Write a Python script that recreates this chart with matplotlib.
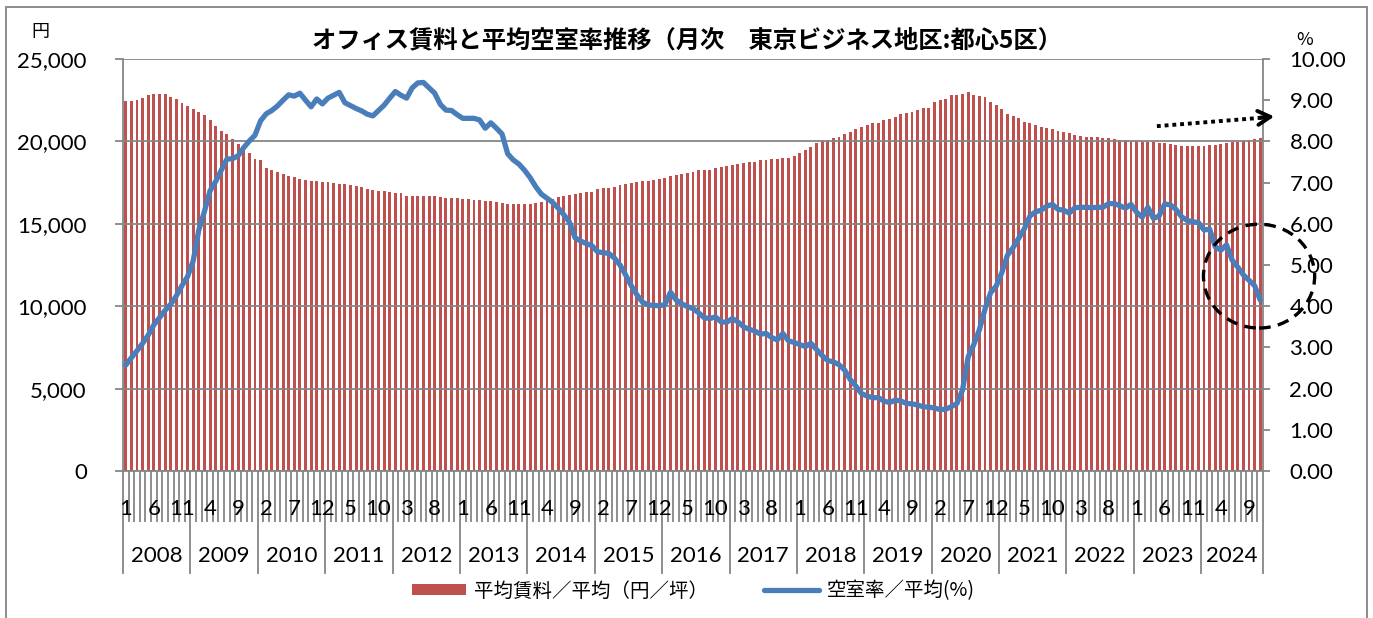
import numpy as np
import matplotlib
matplotlib.use("Agg")
import matplotlib.pyplot as plt
import matplotlib.transforms as mtransforms
from matplotlib.patches import Ellipse, Rectangle
from matplotlib.ticker import FuncFormatter

plt.rcParams['font.family'] = ['Lato', 'Noto Sans CJK JP', 'DejaVu Sans']

start_year = 2008
years = list(range(2008, 2025))

# 平均賃料（円/坪）  2008年1月〜2024年11月
rent = [
    22460, 22480, 22540, 22660, 22790, 22850, 22850, 22870, 22720, 22560, 22320, 22160,  # 2008
    21950, 21790, 21610, 21280, 20960, 20650, 20430, 20140, 19840, 19570, 19310, 18960,  # 2009
    18900, 18390, 18250, 18130, 18030, 17930, 17830, 17740, 17640, 17620, 17580, 17560,  # 2010
    17520, 17480, 17440, 17400, 17360, 17320, 17240, 17130, 17050, 17010, 16970, 16930,  # 2011
    16890, 16870, 16710, 16690, 16710, 16710, 16690, 16690, 16650, 16590, 16560, 16540,  # 2012
    16520, 16500, 16460, 16440, 16400, 16360, 16300, 16260, 16220, 16200, 16180, 16180,  # 2013
    16200, 16240, 16300, 16380, 16500, 16630, 16690, 16750, 16830, 16890, 16910, 16930,  # 2014
    17090, 17150, 17190, 17260, 17340, 17400, 17480, 17540, 17580, 17600, 17640, 17700,  # 2015
    17800, 17890, 17970, 18050, 18110, 18150, 18250, 18290, 18290, 18390, 18460, 18520,  # 2016
    18560, 18640, 18700, 18760, 18780, 18860, 18900, 18920, 18960, 19000, 19020, 19090,  # 2017
    19310, 19450, 19650, 19880, 20000, 20100, 20180, 20240, 20430, 20590, 20730, 20850,  # 2018
    21000, 21100, 21120, 21280, 21380, 21500, 21650, 21750, 21810, 21930, 22010, 22030,  # 2019
    22420, 22520, 22560, 22790, 22810, 22850, 22990, 22810, 22770, 22680, 22420, 22220,  # 2020
    21970, 21650, 21550, 21400, 21200, 21100, 21000, 20900, 20830, 20730, 20630, 20550,  # 2021
    20490, 20390, 20350, 20290, 20290, 20240, 20220, 20180, 20120, 20080, 20060, 20040,  # 2022
    20020, 19980, 19980, 19940, 19920, 19880, 19840, 19760, 19740, 19720, 19720, 19720,  # 2023
    19740, 19760, 19780, 19820, 19880, 19940, 19980, 20020, 20060, 20120, 20180,         # 2024
]

# 空室率（%）
vacancy = [
    2.57, 2.75, 2.92, 3.10, 3.30, 3.55, 3.72, 3.90, 4.05, 4.25, 4.50, 4.72,  # 2008
    5.10, 5.85, 6.30, 6.80, 7.03, 7.30, 7.57, 7.58, 7.65, 7.85, 8.01, 8.15,  # 2009
    8.50, 8.67, 8.75, 8.86, 9.00, 9.13, 9.10, 9.17, 9.00, 8.84, 9.03, 8.91,  # 2010
    9.05, 9.12, 9.19, 8.94, 8.87, 8.80, 8.74, 8.66, 8.62, 8.75, 8.88, 9.05,  # 2011
    9.21, 9.12, 9.05, 9.30, 9.42, 9.43, 9.30, 9.17, 8.90, 8.76, 8.75, 8.65,  # 2012
    8.56, 8.56, 8.56, 8.52, 8.32, 8.45, 8.32, 8.18, 7.70, 7.55, 7.45, 7.30,  # 2013
    7.12, 6.90, 6.72, 6.62, 6.52, 6.38, 6.22, 6.04, 5.66, 5.58, 5.52, 5.47,  # 2014
    5.32, 5.30, 5.28, 5.17, 5.00, 4.76, 4.50, 4.28, 4.10, 4.03, 4.02, 4.01,  # 2015
    4.04, 4.34, 4.15, 4.06, 3.99, 3.94, 3.84, 3.72, 3.70, 3.74, 3.62, 3.61,  # 2016
    3.70, 3.62, 3.50, 3.44, 3.40, 3.32, 3.34, 3.24, 3.18, 3.34, 3.16, 3.12,  # 2017
    3.07, 3.02, 3.10, 2.95, 2.80, 2.68, 2.65, 2.58, 2.45, 2.22, 2.06, 1.88,  # 2018
    1.82, 1.78, 1.78, 1.70, 1.66, 1.72, 1.70, 1.64, 1.63, 1.60, 1.56, 1.55,  # 2019
    1.53, 1.49, 1.50, 1.56, 1.64, 1.97, 2.77, 3.07, 3.43, 3.93, 4.33, 4.49,  # 2020
    4.82, 5.24, 5.42, 5.65, 5.88, 6.19, 6.29, 6.33, 6.43, 6.47, 6.35, 6.33,  # 2021
    6.26, 6.39, 6.40, 6.40, 6.39, 6.40, 6.40, 6.49, 6.49, 6.44, 6.38, 6.47,  # 2022
    6.28, 6.16, 6.40, 6.13, 6.19, 6.48, 6.46, 6.35, 6.17, 6.08, 6.05, 6.03,  # 2023
    5.85, 5.87, 5.44, 5.36, 5.49, 5.12, 4.95, 4.76, 4.63, 4.50, 4.15,        # 2024
]

n = len(rent)
x = np.arange(n)
month_of = [(k % 12) + 1 for k in range(n)]

RED = '#C0504D'
BLUE = '#4A7EBB'
GRAY = '#868686'

fig = plt.figure(figsize=(13.73, 6.18), dpi=100)
ax = fig.add_axes([123 / 1373, 1 - 471 / 618, 1140 / 1373, 412 / 618])
ax2 = ax.twinx()

# 賃料（棒）
ax.bar(x, rent, width=0.52, color=RED, linewidth=0, zorder=2)
ax.set_xlim(-0.5, n - 0.5)
ax.set_ylim(0, 25000)
ax.set_yticks(np.arange(0, 25001, 5000))
ax.yaxis.set_major_formatter(FuncFormatter(lambda v, p: f'{int(v):,}'))
ax.yaxis.grid(True, color=GRAY, lw=1.3, zorder=3)
ax.set_axisbelow(False)

# 空室率（線）
ax2.plot(x, vacancy, color=BLUE, lw=3.8, solid_joinstyle='round', solid_capstyle='round', zorder=5)
ax2.set_ylim(0, 10)
ax2.set_yticks(np.arange(0, 10.01, 1))
ax2.yaxis.set_major_formatter(FuncFormatter(lambda v, p: f'{v:.2f}'))

for a in (ax, ax2):
    a.spines['top'].set_visible(False)
    for s in ('left', 'right', 'bottom'):
        a.spines[s].set_color(GRAY)
        a.spines[s].set_linewidth(1.3)
ax2.spines['left'].set_visible(False)
ax.spines['right'].set_visible(False)
ax2.spines['bottom'].set_visible(False)

ax.tick_params(axis='y', length=6, width=1.3, color=GRAY, labelsize=16, pad=20)
ax2.tick_params(axis='y', length=5, width=1.3, color=GRAY, labelsize=16, pad=14)

# 月の区切り（目盛）と月ラベル
ax.set_xticks(np.arange(-0.5, n, 1))
ax.set_xticklabels([])
ax.tick_params(axis='x', which='major', length=37, width=1.3, color=GRAY)
lab_pos = [k for k in range(n) if k % 5 == 0]
ax.set_xticks(lab_pos, minor=True)
ax.set_xticklabels([str(month_of[k]) for k in lab_pos], minor=True)
ax.tick_params(axis='x', which='minor', length=0, labelsize=16, pad=20)

# 年ラベルと年の区切り線
trans = mtransforms.blended_transform_factory(ax.transData, ax.transAxes)
bounds = [12 * i - 0.5 for i in range(len(years))] + [n - 0.5]
for b in bounds:
    ax.plot([b, b], [-0.124, -0.248], transform=trans, color=GRAY, lw=1.3, clip_on=False)
for i, yr in enumerate(years):
    ax.text((bounds[i] + bounds[i + 1]) / 2, -0.206, str(yr), transform=trans,
            ha='center', va='center', fontsize=16)

# 注記：右肩上がりの矢印と点線の円
ax2.plot([183.6, 202.8], [8.37, 8.58], color='black', lw=2.8, linestyle=(0, (1.0, 1.0)),
         clip_on=False, zorder=6)
ax2.annotate('', xy=(205.0, 8.61), xytext=(201.5, 8.57),
             arrowprops=dict(arrowstyle='->,head_length=0.9,head_width=0.5', lw=2.8, color='black'),
             annotation_clip=False, zorder=6)
circ = Ellipse((201.8, 4.73), 19.8, 2.52, fill=False, ec='black', lw=2.4,
               linestyle=(0, (3.5, 2.2)), clip_on=False, zorder=6)
ax2.add_patch(circ)

# タイトル・単位
fig.text(0.5, 1 - 40 / 618, 'オフィス賃料と平均空室率推移（月次　東京ビジネス地区:都心5区）',
         ha='center', va='center', fontsize=17.5, fontweight='bold',
         family=['Noto Sans CJK JP', 'DejaVu Sans'])
fig.text(40 / 1373, 1 - 32 / 618, '円', ha='center', va='center', fontsize=13,
         family=['Noto Sans CJK JP'])
fig.text(1305 / 1373, 1 - 40 / 618, '%', ha='center', va='center', fontsize=13,
         family=['Noto Sans CJK JP'])

# 凡例
h1 = ax.bar([0], [0], color=RED)
h2, = ax2.plot([], [], color=BLUE, lw=3.8, solid_capstyle='round')
leg = fig.legend([h1, h2], ['平均賃料／平均（円／坪）', '空室率／平均(%)'],
                 loc='center', bbox_to_anchor=(693 / 1373, 1 - 591 / 618), ncol=2,
                 frameon=False, handlelength=2.8, handleheight=0.5, handletextpad=0.4,
                 columnspacing=2.9, prop={'family': ['Noto Sans CJK JP'], 'size': 14})

# 外枠
fig.patches.append(Rectangle((6 / 1373, -0.05), (1367 - 6) / 1373, 1.05 - 7 / 618,
                             transform=fig.transFigure, fill=False, ec='#8C8C8C', lw=1.4))

fig.savefig('out.png', dpi=100)
